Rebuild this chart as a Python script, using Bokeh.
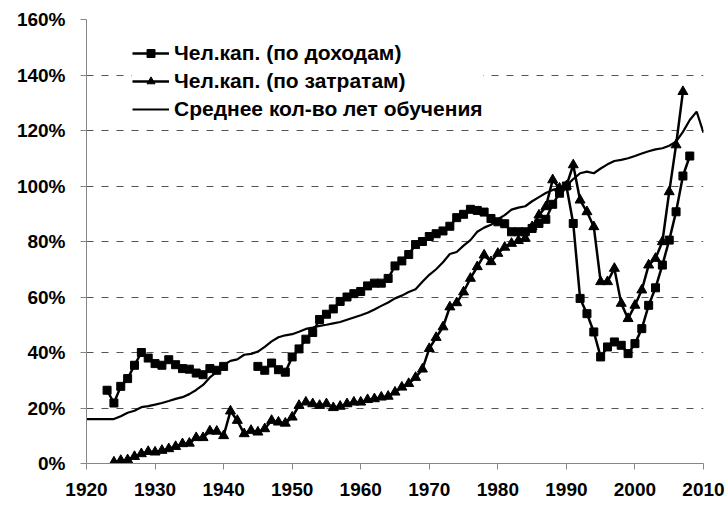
from bokeh.plotting import figure
from bokeh.models import Range1d, FixedTicker, CustomJSTickFormatter, Legend, LegendItem
from bokeh.embed import file_html
from bokeh.resources import INLINE

# Human capital (by income), %, 1990 = 100
inc_years = list(range(1923, 1941)) + list(range(1945, 2009))
inc_vals = [26.4, 21.8, 27.8, 30.6, 35.4, 40.0, 38.0, 36.0, 35.4, 37.4, 35.6, 34.2, 34.0, 32.6, 32.0, 34.2, 33.6, 35.0,
            35.0, 33.6, 36.2, 33.8, 32.9, 38.4, 41.3, 44.8, 47.2, 51.9, 53.8, 55.7, 58.4, 60.0, 61.2, 62.0, 64.0, 65.0,
            65.0, 66.7, 71.2, 73.0, 75.3, 78.9, 80.0, 81.8, 82.8, 83.8, 85.5, 88.6, 89.8, 91.6, 91.2, 90.6, 88.3, 87.1,
            86.4, 83.5, 83.5, 83.5, 84.7, 86.5, 88.0, 93.4, 97.4, 100.0, 86.5, 59.5, 54.0, 47.4, 38.4, 42.0, 43.8, 42.6,
            39.6, 43.2, 48.6, 57.0, 63.3, 71.5, 80.5, 90.7, 103.6, 110.8]

# Human capital (by expenditure), %
exp_years = list(range(1924, 2008))
exp_vals = [0.5, 1.1, 1.3, 2.5, 3.5, 4.3, 4.1, 4.7, 5.3, 6.1, 7.1, 7.3, 9.3, 9.3, 11.7, 11.6, 10.0, 18.9, 15.5, 10.7,
            11.9, 11.3, 12.5, 15.5, 14.9, 14.5, 16.7, 20.9, 22.1, 21.5, 20.9, 21.5, 20.1, 20.6, 21.5, 22.1, 22.1, 23.0,
            23.3, 23.9, 24.2, 25.7, 27.5, 28.8, 31.0, 34.0, 41.4, 45.4, 49.2, 56.4, 57.9, 61.8, 66.7, 70.9, 75.1, 72.7,
            75.7, 77.9, 79.3, 80.3, 81.1, 85.3, 89.5, 92.5, 102.2, 99.2, 100.0, 107.6, 94.9, 90.7, 85.3, 65.5, 65.5, 70.3,
            57.7, 52.2, 57.0, 62.5, 71.5, 73.9, 79.9, 97.9, 114.8, 134.0]

# Average years of schooling, %
avg_years = list(range(1920, 2011))
avg_vals = [16.0, 16.0, 16.0, 16.0, 16.0, 17.0, 18.3, 19.0, 20.3, 20.7, 21.2, 21.8, 22.5, 23.3, 23.9, 25.0, 26.5, 28.3,
            31.0, 33.0, 35.5, 37.0, 37.5, 39.2, 39.5, 40.3, 42.0, 44.0, 45.5, 46.2, 46.6, 47.5, 48.5, 49.0, 49.6, 50.0,
            50.5, 51.0, 51.8, 52.6, 53.4, 54.3, 55.5, 56.8, 58.0, 59.5, 60.5, 61.8, 62.8, 65.5, 68.0, 70.0, 72.5, 75.5,
            76.2, 78.5, 80.5, 83.5, 85.0, 86.0, 88.0, 89.5, 91.5, 92.2, 92.7, 94.5, 96.0, 97.5, 98.6, 99.3, 100.0, 102.5,
            104.6, 105.2, 104.6, 106.3, 107.8, 109.0, 109.4, 110.0, 110.8, 111.7, 112.5, 113.2, 113.6, 114.5, 116.0,
            119.5, 123.8, 126.8, 119.2]

x_ticks = list(range(1920, 2011, 10))
y_ticks = list(range(0, 161, 20))

labels = ["Чел.кап. (по доходам)", "Чел.кап. (по затратам)", "Среднее кол-во лет обучения"]

FONT = "Liberation Sans"

p = figure(width=728, height=508, output_backend="svg", toolbar_location=None,
           x_range=Range1d(1920, 2010), y_range=Range1d(0, 160),
           min_border_left=86, min_border_right=25, min_border_top=19, min_border_bottom=45)
p.outline_line_color = None
p.background_fill_color = "white"
p.border_fill_color = "white"

# grid
p.xgrid.grid_line_color = None
p.ygrid.grid_line_color = "#555555"
p.ygrid.grid_line_dash = "7 8"
p.ygrid.grid_line_width = 1
p.ygrid.ticker = FixedTicker(ticks=y_ticks)

for ax in (p.xaxis[0], p.yaxis[0]):
    ax.axis_line_color = "#868686"
    ax.axis_line_width = 1
    ax.major_tick_line_color = "#868686"
    ax.major_tick_in = 0
    ax.major_tick_out = 6
    ax.minor_tick_line_color = None
    ax.major_label_text_font = FONT
    ax.major_label_text_font_style = "bold"
    ax.major_label_text_font_size = "19px"
    ax.major_label_text_color = "black"

p.xaxis.ticker = FixedTicker(ticks=x_ticks)
p.yaxis.ticker = FixedTicker(ticks=y_ticks)
p.yaxis.formatter = CustomJSTickFormatter(code="return tick.toFixed(0) + '%';")
p.xaxis.major_label_standoff = 13
p.yaxis.major_label_standoff = 15

r_avg = p.line(avg_years, avg_vals, line_color="black", line_width=2.2)
l_inc = p.line(inc_years[:18], inc_vals[:18], line_color="black", line_width=2.5)
l_inc2 = p.line(inc_years[18:], inc_vals[18:], line_color="black", line_width=2.5)
s_inc = p.scatter(inc_years, inc_vals, marker="square", size=8, fill_color="black", line_color="black")
l_exp = p.line(exp_years, exp_vals, line_color="black", line_width=2.5)
s_exp = p.scatter(exp_years, exp_vals, marker="triangle", size=10, fill_color="black", line_color="black")

legend = Legend(items=[
    LegendItem(label=labels[0], renderers=[l_inc, s_inc]),
    LegendItem(label=labels[1], renderers=[l_exp, s_exp]),
    LegendItem(label=labels[2], renderers=[r_avg]),
], location=(46, 340))
legend.label_text_font = FONT
legend.label_text_font_style = "bold"
legend.label_text_font_size = "21px"
legend.label_text_color = "black"
legend.glyph_width = 37
legend.glyph_height = 20
legend.label_height = 28
legend.spacing = 0
legend.label_standoff = 5
legend.padding = 10
legend.margin = 0
legend.border_line_color = None
legend.background_fill_color = "white"
legend.background_fill_alpha = 1.0
p.add_layout(legend, "center")

open("out.html", "w").write(file_html(p, INLINE))
